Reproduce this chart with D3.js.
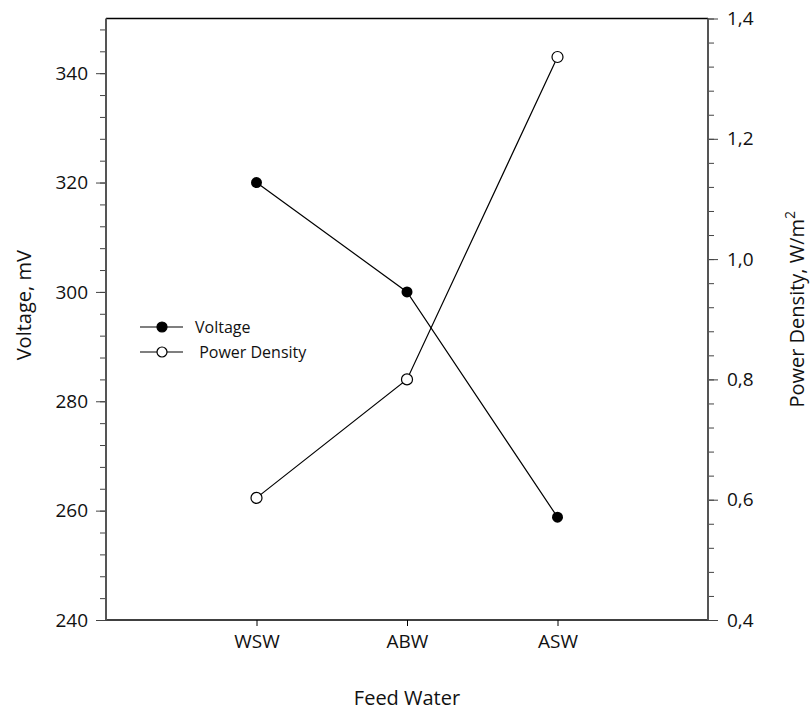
<!DOCTYPE html>
<html>
<head>
<meta charset="utf-8">
<script src="https://cdn.jsdelivr.net/npm/d3@7"></script>
<style>
  body { margin: 0; background: #fff; }
  text { font-family: "Open Sans", "Liberation Sans", sans-serif; fill: #111; }
</style>
</head>
<body>
<div id="chart"></div>
<script>
const categories = ["WSW", "ABW", "ASW"];
const voltage = [320, 300, 258.8];
const powerDensity = [0.603, 0.80, 1.336];
const voltageTicks = [240, 260, 280, 300, 320, 340];
const powerTicks = [0.4, 0.6, 0.8, 1.0, 1.2, 1.4];

const width = 810;
const height = 711;
const margin = { top: 18.5, right: 102, bottom: 91, left: 106 };
const innerW = width - margin.left - margin.right;
const innerH = height - margin.top - margin.bottom;

const svg = d3
  .select("#chart")
  .append("svg")
  .attr("width", width)
  .attr("height", height);

const g = svg.append("g").attr("transform", `translate(${margin.left},${margin.top})`);

const x = d3.scalePoint().domain(categories).range([0, innerW]).padding(1);
const yL = d3.scaleLinear().domain([240, 350]).range([innerH, 0]);
const yR = d3.scaleLinear().domain([0.4, 1.4]).range([innerH, 0]);

const fmtComma = (d) => d3.format(".1f")(d).replace(".", ",");

// minor ticks
const minorL = d3.range(240, 350, 4);
const minorR = d3.range(0, 26).map((i) => 0.4 + i * 0.04);

const left = g
  .append("g")
  .call(d3.axisLeft(yL).tickValues(minorL).tickSize(6).tickFormat(""));
left.select(".domain").remove();
left.selectAll("line").attr("stroke", "#444");
const leftMajor = g
  .append("g")
  .call(d3.axisLeft(yL).tickValues(voltageTicks).tickSize(10).tickPadding(8));
leftMajor.select(".domain").remove();
leftMajor.selectAll("line").attr("stroke", "#444");
leftMajor.selectAll("text").style("font-size", "19px");

const right = g
  .append("g")
  .attr("transform", `translate(${innerW},0)`)
  .call(d3.axisRight(yR).tickValues(minorR).tickSize(6).tickFormat(""));
right.select(".domain").remove();
right.selectAll("line").attr("stroke", "#444");
const rightMajor = g
  .append("g")
  .attr("transform", `translate(${innerW},0)`)
  .call(d3.axisRight(yR).tickValues(powerTicks).tickSize(10).tickPadding(9).tickFormat(fmtComma));
rightMajor.select(".domain").remove();
rightMajor.selectAll("line").attr("stroke", "#444");
rightMajor.selectAll("text").style("font-size", "19px");

const bottom = g
  .append("g")
  .attr("transform", `translate(0,${innerH})`)
  .call(d3.axisBottom(x).tickSize(6).tickPadding(9));
bottom.select(".domain").remove();
bottom.selectAll("text").style("font-size", "19px");

// frame
g.append("line").attr("x1", 0).attr("x2", innerW).attr("y1", 0).attr("y2", 0).attr("stroke", "#000").attr("stroke-width", 1.5);
g.append("line").attr("x1", 0).attr("x2", innerW).attr("y1", innerH).attr("y2", innerH).attr("stroke", "#000").attr("stroke-width", 1.5);
g.append("line").attr("x1", 0).attr("x2", 0).attr("y1", 0).attr("y2", innerH).attr("stroke", "#555").attr("stroke-width", 2);
g.append("line").attr("x1", innerW).attr("x2", innerW).attr("y1", 0).attr("y2", innerH).attr("stroke", "#555").attr("stroke-width", 2);

// lines
const lineV = d3.line().x((d, i) => x(categories[i])).y((d) => yL(d));
const lineP = d3.line().x((d, i) => x(categories[i])).y((d) => yR(d));

g.append("path").attr("d", lineV(voltage)).attr("fill", "none").attr("stroke", "#000").attr("stroke-width", 1.2);
g.append("path").attr("d", lineP(powerDensity)).attr("fill", "none").attr("stroke", "#000").attr("stroke-width", 1.2);

g.selectAll(".vdot")
  .data(voltage)
  .enter()
  .append("circle")
  .attr("cx", (d, i) => x(categories[i]))
  .attr("cy", (d) => yL(d))
  .attr("r", 5.5)
  .attr("fill", "#000");

g.selectAll(".pdot")
  .data(powerDensity)
  .enter()
  .append("circle")
  .attr("cx", (d, i) => x(categories[i]))
  .attr("cy", (d) => yR(d))
  .attr("r", 5.5)
  .attr("fill", "#fff")
  .attr("stroke", "#000")
  .attr("stroke-width", 1.2);

// legend
const legend = svg.append("g").attr("transform", "translate(140,327)");
const legendItems = [
  { label: "Voltage", fill: "#000" },
  { label: " Power Density", fill: "#fff" }
];
legendItems.forEach((item, i) => {
  const row = legend.append("g").attr("transform", `translate(0,${i * 25})`);
  row.append("line").attr("x1", 0).attr("x2", 43).attr("stroke", "#000").attr("stroke-width", 1.2);
  row.append("circle").attr("cx", 22).attr("r", 5).attr("fill", item.fill).attr("stroke", "#000").attr("stroke-width", 1.2);
  row.append("text")
    .attr("x", 55)
    .attr("dy", "0.35em")
    .style("font-size", "16px")
    .style("white-space", "pre")
    .attr("xml:space", "preserve")
    .text(item.label);
});

// axis titles
svg.append("text")
  .attr("transform", `translate(31,${margin.top + innerH / 2 - 14}) rotate(-90)`)
  .attr("text-anchor", "middle")
  .style("font-size", "20px")
  .text("Voltage, mV");

const rt = svg.append("text")
  .attr("transform", `translate(804,${margin.top + innerH / 2 - 10}) rotate(-90)`)
  .attr("text-anchor", "middle")
  .style("font-size", "20px");
rt.append("tspan").text("Power Density, W/m");
rt.append("tspan").attr("dy", "-9").style("font-size", "14px").text("2");

svg.append("text")
  .attr("x", margin.left + innerW / 2)
  .attr("y", 705)
  .attr("text-anchor", "middle")
  .style("font-size", "20px")
  .text("Feed Water");
</script>
</body>
</html>
